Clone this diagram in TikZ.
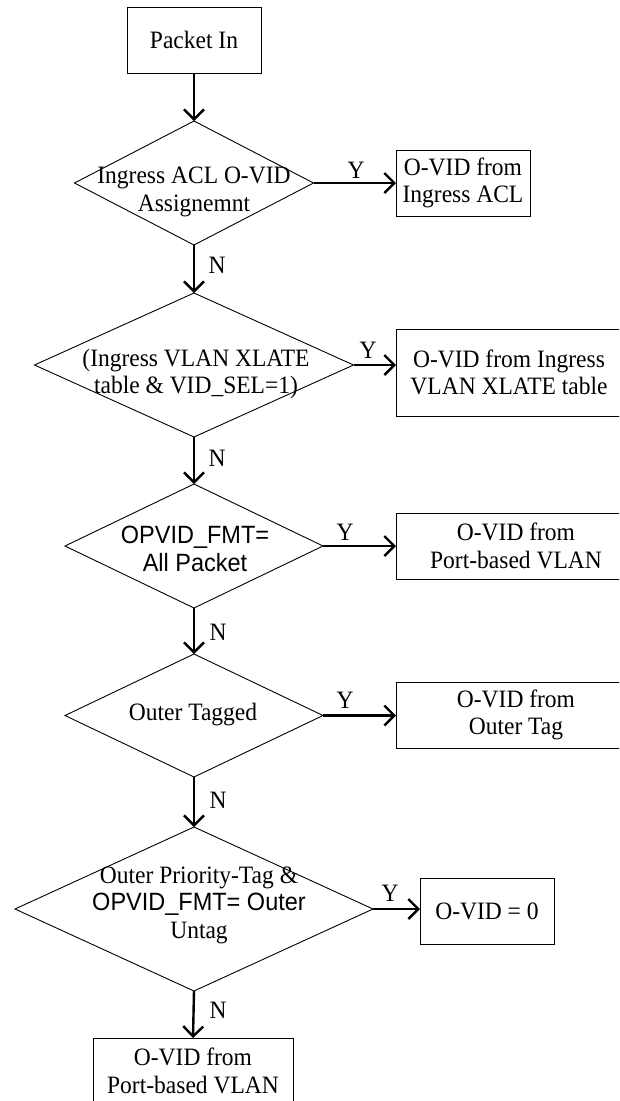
\documentclass[tikz,border=0pt]{standalone}
\usepackage{fontspec}
\setmainfont{Liberation Serif}[FakeStretch=0.94]
\newfontfamily\arialf{Liberation Sans}[FakeStretch=0.94]
\usetikzlibrary{shapes.geometric,arrows.meta,calc}
\newcommand\mainsz{\fontsize{25}{27.5}\selectfont}
\tikzset{
  flowbox/.style={draw, line width=1pt, inner sep=0pt, outer sep=0pt, align=center, font=\mainsz},
  decision/.style={draw, diamond, line width=0.9pt, inner sep=0pt, outer sep=0pt},
  dtext/.style={align=center, inner sep=0pt, font=\mainsz},
  flow/.style={line width=2.4pt, -{Straight Barb[length=10pt,width=20pt]}},
  yn/.style={inner sep=0pt, font=\mainsz}
}
\begin{document}
\begin{tikzpicture}[x=1pt,y=-1pt]
\useasboundingbox (0,0) rectangle (619,1101);
\fill[white] (0,0) rectangle (619,1101);
\clip (0,0) rectangle (619,1101);

% process boxes
\node[flowbox, minimum width=134pt, minimum height=66pt] (b0) at (194,40) {Packet In};
\node[flowbox, minimum width=134pt, minimum height=66pt] (b1) at (463,183) {O-VID from\\Ingress ACL};
\node[flowbox, minimum width=226pt, minimum height=87pt] (b2) at (509,372.5) {O-VID from Ingress\\VLAN XLATE table};
\node[flowbox, minimum width=240pt, minimum height=66pt] (b3) at (516,546) {O-VID from\\Port-based VLAN};
\node[flowbox, minimum width=240pt, minimum height=66pt] (b4) at (516,715) {O-VID from\\Outer Tag};
\node[flowbox, minimum width=134pt, minimum height=66pt] (b5) at (487,911) {O-VID = 0};
\node[flowbox, minimum width=200pt, minimum height=66pt] (b6) at (193,1071) {O-VID from\\Port-based VLAN};

% decisions
\node[decision, minimum width=239pt, minimum height=124pt] (d1) at (194,183) {};
\node[decision, minimum width=319pt, minimum height=144pt] (d2) at (194,365) {};
\node[decision, minimum width=258pt, minimum height=124pt] (d3) at (194,546) {};
\node[decision, minimum width=258pt, minimum height=123pt] (d4) at (194,715.5) {};
\node[decision, minimum width=358pt, minimum height=164pt] (d5) at (194,909) {};

% decision texts
\node[dtext] (t1) at (194,192) {Ingress ACL O-VID\\Assignemnt};
\node[dtext] (t2) at (196,374) {(Ingress VLAN XLATE\\table \& VID\_SEL=1)};
\node[dtext, font=\mainsz\arialf] (t3) at (195,549) {OPVID\_FMT=\\All Packet};
\node[dtext] (t4) at (193,715) {Outer Tagged};
\node[dtext] (t5) at (199,905) {Outer Priority-Tag \&\\{\arialf OPVID\_FMT= Outer}\\Untag};

% connectors
\draw[flow] (b0.south) -- (d1.north);
\draw[flow] (d1.south) -- (d2.north);
\draw[flow] (d2.south) -- (d3.north);
\draw[flow] (d3.south) -- (d4.north);
\draw[flow] (d4.south) -- (d5.north);
\draw[flow] (d5.south) -- (b6.north);
\draw[flow] (d1.east) -- (d1.east -| b1.west);
\draw[flow] (d2.east) -- (d2.east -| b2.west);
\draw[flow] (d3.east) -- (d3.east -| b3.west);
\draw[flow] (d4.east) -- (d4.east -| b4.west);
\draw[flow] (d5.east) -- (d5.east -| b5.west);

% labels
\node[yn] (y1) at (356,170) {Y};
\node[yn] (y2) at (368,350) {Y};
\node[yn] (y3) at (345,532) {Y};
\node[yn] (y4) at (345,700) {Y};
\node[yn] (y5) at (390,893) {Y};
\node[yn] (n1) at (217,265) {N};
\node[yn] (n2) at (217,458) {N};
\node[yn] (n3) at (218,632) {N};
\node[yn] (n4) at (218,800) {N};
\node[yn] (n5) at (218,1010) {N};
\end{tikzpicture}
\end{document}
